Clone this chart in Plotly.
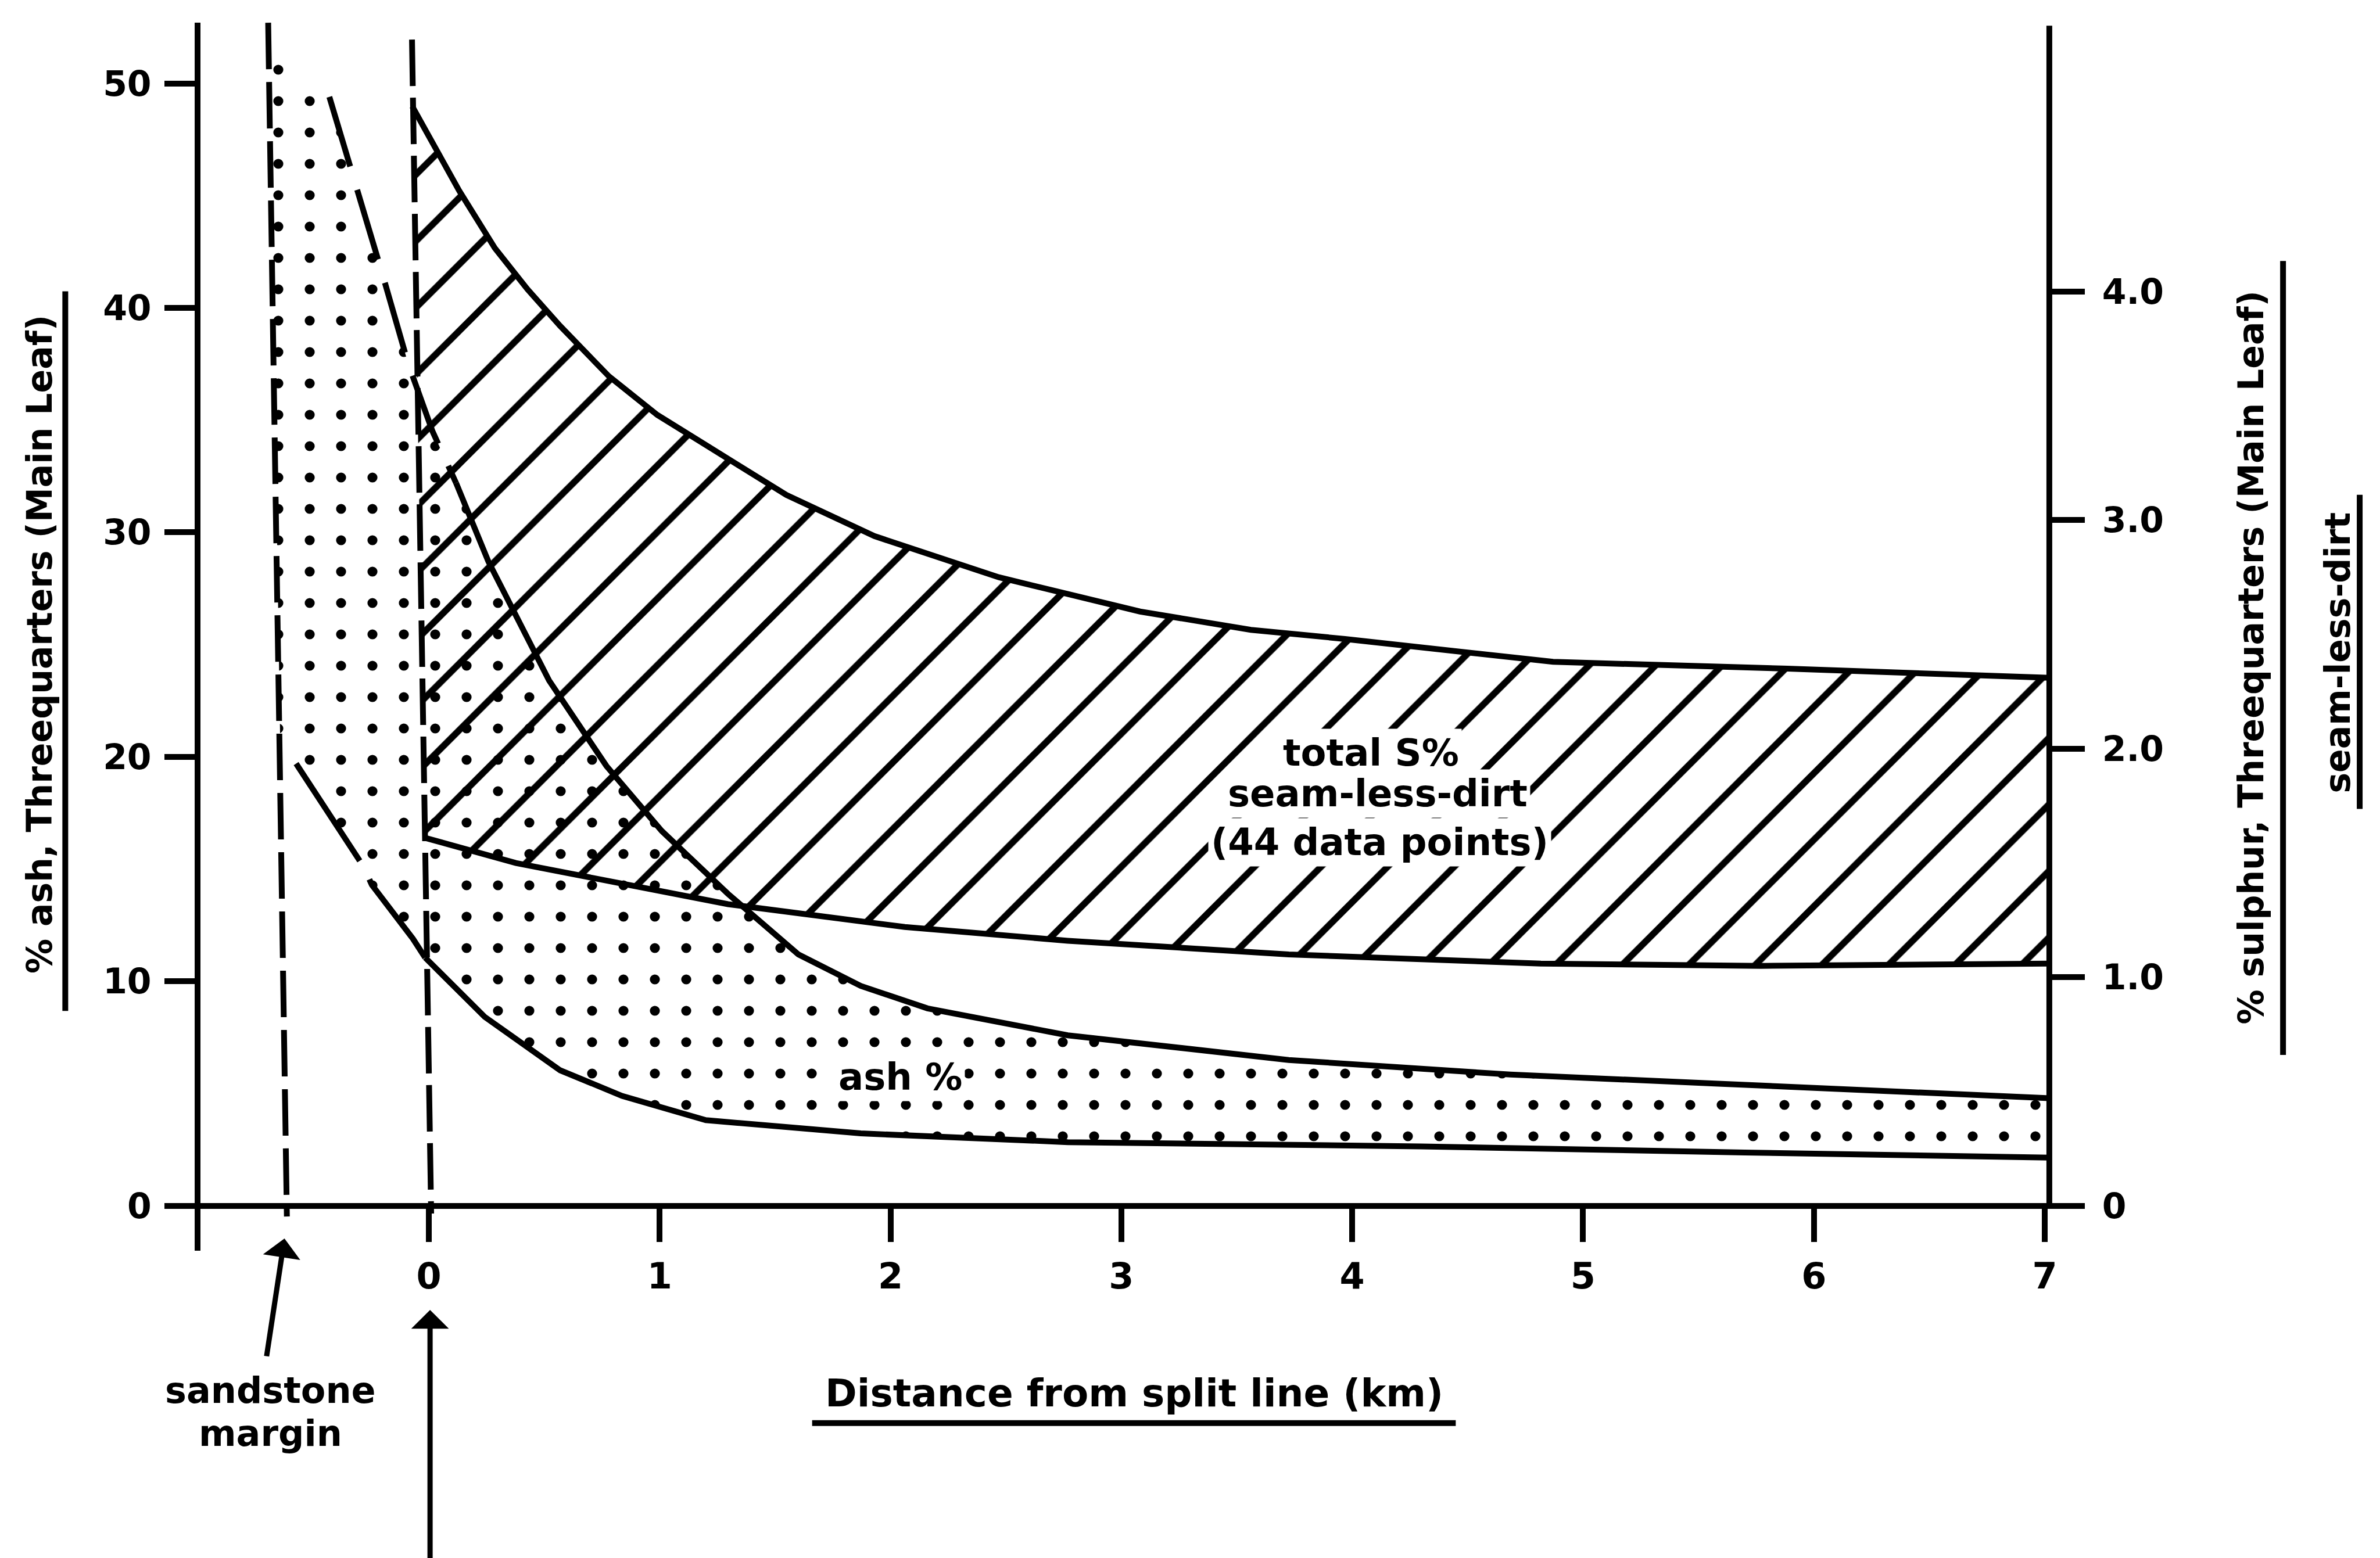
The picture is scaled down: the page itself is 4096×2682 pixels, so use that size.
import plotly.graph_objects as go

# ---------------- data ----------------
# total S% seam-less-dirt band (right axis, % sulphur)
s_upper_km = [-0.072, 0.007, 0.132, 0.286, 0.427, 0.568, 0.779, 0.990, 1.200, 1.549,
              1.930, 2.469, 3.081, 3.561, 3.969, 4.870, 5.885, 6.928, 7.02]
s_upper = [4.81, 4.67, 4.44, 4.19, 4.01, 3.85, 3.63, 3.46, 3.33, 3.11,
           2.93, 2.75, 2.60, 2.52, 2.48, 2.38, 2.35, 2.31, 2.31]
s_lower_km = [-0.016, 0.377, 1.296, 2.062, 2.768, 3.725, 4.817, 5.770, 7.02]
s_lower = [1.61, 1.50, 1.32, 1.22, 1.16, 1.10, 1.06, 1.05, 1.06]

# ash % band (left axis)
ash_upper_ext_km = [-0.431, -0.319, -0.201, -0.089, 0.016, 0.118]
ash_upper_ext = [49.4, 45.6, 41.5, 37.5, 34.5, 32.2]
ash_upper_km = [0.118, 0.258, 0.521, 0.769, 1.009, 1.296, 1.601, 1.871, 2.160,
                2.768, 3.725, 4.685, 5.571, 7.02]
ash_upper = [32.2, 28.7, 23.4, 19.6, 16.7, 13.9, 11.2, 9.8, 8.8,
             7.6, 6.5, 5.85, 5.45, 4.8]
ash_lower_km = [-0.016, 0.242, 0.569, 0.837, 1.200, 1.871, 2.768, 4.297, 5.7, 7.02]
ash_lower = [11.06, 8.42, 6.04, 4.90, 3.82, 3.23, 2.84, 2.65, 2.38, 2.15]
ash_lower_ext_km = [-0.575, -0.282, -0.247, -0.069, -0.016]
ash_lower_ext = [19.7, 15.1, 14.3, 11.9, 11.06]
# dotted area closes against the sandstone margin
ash_margin_km = [-0.644, -0.690]
ash_margin = [20.7, 51.4]

# reference lines
sandstone_km = [-0.696, -0.615]
sandstone_ash = [52.7, -0.47]
split_km = [-0.073, 0.010]
split_ash = [51.95, -0.34]

x_ticks = [0, 1, 2, 3, 4, 5, 6, 7]
x_ticktext = ["0", "1", "2", "3", "4", "5", "6", "7"]
y_ticks = [0, 10, 20, 30, 40, 50]
y_ticktext = ["0", "10", "20", "30", "40", "50"]
y2_ticks = [0, 1, 2, 3, 4]
y2_ticktext = ["0", "1.0", "2.0", "3.0", "4.0"]

# ---------------- layout geometry ----------------
W, H = 4096, 2682
L, R, T, B = 282, 538, 31, 537
FONT = "DejaVu Sans"
LW = 10


def px(xp):
    return (xp - 108) / 1254.0


def py(yp):
    return (821 - yp) / 809.0


fig = go.Figure()

# hatched S band
fig.add_trace(go.Scatter(
    x=s_upper_km + s_lower_km[::-1], y=s_upper + s_lower[::-1],
    yaxis="y2", mode="lines", line=dict(width=0, color="rgba(0,0,0,0)"),
    fill="toself", fillcolor="rgba(0,0,0,0)",
    fillpattern=dict(shape="/", size=81, solidity=0.14, fgcolor="black",
                     fgopacity=1, bgcolor="rgba(0,0,0,0)"),
    hoverinfo="skip"))

# dotted ash band
poly_x = ([ash_margin_km[1]] + ash_upper_ext_km + ash_upper_km[1:] + ash_lower_km[::-1]
          + ash_lower_ext_km[::-1][1:] + [ash_margin_km[0]])
poly_y = ([ash_margin[1]] + ash_upper_ext + ash_upper[1:] + ash_lower[::-1]
          + ash_lower_ext[::-1][1:] + [ash_margin[0]])
fig.add_trace(go.Scatter(
    x=poly_x, y=poly_y, mode="lines", line=dict(width=0, color="rgba(0,0,0,0)"),
    fill="toself", fillcolor="rgba(0,0,0,0)",
    fillpattern=dict(shape=".", size=54, solidity=0.08, fgcolor="black",
                     fgopacity=1, bgcolor="rgba(0,0,0,0)"),
    hoverinfo="skip"))

line = dict(color="black", width=LW)
fig.add_trace(go.Scatter(x=s_upper_km, y=s_upper, yaxis="y2", mode="lines", line=line))
fig.add_trace(go.Scatter(x=s_lower_km, y=s_lower, yaxis="y2", mode="lines", line=line))
fig.add_trace(go.Scatter(x=ash_upper_km, y=ash_upper, mode="lines", line=line))
fig.add_trace(go.Scatter(x=ash_lower_km, y=ash_lower, mode="lines", line=line))
fig.add_trace(go.Scatter(x=ash_upper_ext_km, y=ash_upper_ext, mode="lines",
                         line=dict(color="black", width=LW, dash="125px,42px")))
fig.add_trace(go.Scatter(x=ash_lower_ext_km, y=ash_lower_ext, mode="lines",
                         line=dict(color="black", width=LW, dash="200px,36px")))
fig.add_trace(go.Scatter(x=sandstone_km, y=sandstone_ash, mode="lines",
                         line=dict(color="black", width=LW, dash="80px,22px")))
fig.add_trace(go.Scatter(x=split_km, y=split_ash, mode="lines",
                         line=dict(color="black", width=LW, dash="80px,20px")))

tickfont_x = dict(family=FONT, size=62, color="black", weight="bold")
tickfont_y = dict(family=FONT, size=60, color="black", weight="bold")

X_AXIS_POS = (821 - 791.5) / 809.0

fig.update_layout(
    width=W, height=H,
    margin=dict(l=L, r=R, t=T, b=B),
    paper_bgcolor="white", plot_bgcolor="white",
    showlegend=False,
    xaxis=dict(range=[-1.1278, 7.1184], anchor="free", position=X_AXIS_POS,
               showline=True, linecolor="black", linewidth=LW,
               ticks="outside", ticklen=57, tickwidth=LW, tickcolor="black",
               tickvals=x_ticks, ticktext=x_ticktext, tickfont=tickfont_x,
               ticklabelstandoff=6,
               showgrid=False, zeroline=False),
    yaxis=dict(range=[-1.995, 52.705], anchor="free", position=0.01515,
               showline=True, linecolor="black", linewidth=LW,
               ticks="outside", ticklen=52, tickwidth=LW, tickcolor="black",
               tickvals=y_ticks, ticktext=y_ticktext, tickfont=tickfont_y,
               ticklabelstandoff=10,
               showgrid=False, zeroline=False),
    yaxis2=dict(range=[-0.1959, 5.176], anchor="free", position=0.98804,
                overlaying="y", side="right",
                showline=False,
                ticks="outside", ticklen=60, tickwidth=LW, tickcolor="black",
                tickvals=y2_ticks, ticktext=y2_ticktext, tickfont=tickfont_y,
                ticklabelstandoff=18,
                showgrid=False, zeroline=False),
)

# right axis line (stops at the distance axis)
fig.add_shape(type="line", xref="x", yref="paper", x0=7.02, x1=7.02,
              y0=X_AXIS_POS, y1=py(14), line=dict(color="black", width=LW))

# underlines of the titles
for (x0, y0, x1, y1) in [
    (px(40), py(189), px(40), py(663)),
    (px(1501), py(169), px(1501), py(692)),
    (px(1551.5), py(323), px(1551.5), py(530)),
    (px(532), py(934.6), px(956), py(934.6)),
]:
    fig.add_shape(type="line", xref="paper", yref="paper", x0=x0, y0=y0, x1=x1, y1=y1,
                  line=dict(color="black", width=LW))


def txt(text, xp, yp, size, angle=0, bg=None):
    d = dict(text=text, x=px(xp), y=py(yp), xref="paper", yref="paper",
             showarrow=False, textangle=angle, xanchor="center", yanchor="middle",
             font=dict(family=FONT, size=size, color="black", weight="bold"))
    if bg:
        d["bgcolor"] = bg
        d["borderpad"] = 4
    fig.add_annotation(**d)


txt("% ash, Threequarters (Main Leaf)", 23, 421.5, 60, angle=-90)
txt("% sulphur, Threequarters (Main Leaf)", 1480, 430, 60, angle=-90)
txt("seam-less-dirt", 1537, 427, 60, angle=-90)
txt("Distance from split line (km)", 744, 915, 66)
txt("total S%", 900, 493, 64, bg="white")
txt("seam-less-dirt", 904.5, 520, 64, bg="white")
txt("(44 data points)", 906, 552, 64, bg="white")
txt("ash %", 590, 706.5, 64, bg="white")
txt("sandstone", 175, 913, 62)
txt("margin", 175, 941.5, 62)

# arrows to the split line and sandstone margin
fig.add_annotation(x=px(280.3), y=py(860), xref="paper", yref="paper", text="",
                   showarrow=True, arrowhead=1, arrowsize=1.2, arrowwidth=9,
                   arrowcolor="black", ax=0, ay=444, standoff=0)
fig.add_annotation(x=px(184.4), y=py(813), xref="paper", yref="paper", text="",
                   showarrow=True, arrowhead=1, arrowsize=1.2, arrowwidth=9,
                   arrowcolor="black", ax=-31, ay=204, standoff=0)

fig.write_html("out.html")
